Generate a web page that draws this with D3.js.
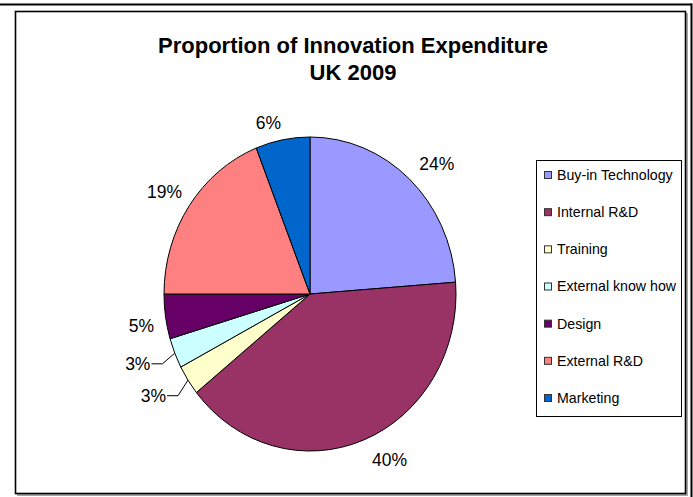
<!DOCTYPE html>
<html>
<head>
<meta charset="utf-8">
<script src="https://cdn.jsdelivr.net/npm/d3@7"></script>
<style>
  html, body { margin: 0; padding: 0; background: #fff; }
  svg { display: block; font-family: "Liberation Sans", Arial, sans-serif; }
</style>
</head>
<body>
<svg id="chart" width="693" height="497"></svg>
<script>
// ---- data ----
const titleLines = ["Proportion of Innovation Expenditure", "UK 2009"];
const categories = ["Buy-in Technology", "Internal R&D", "Training", "External know how", "Design", "External R&D", "Marketing"];
const values = [23.8, 40.4, 3.1, 3.1, 4.6, 19.0, 6.0];
const colors = ["#9999FF", "#993366", "#FFFFCC", "#CCFFFF", "#660066", "#FF8080", "#0066CC"];

// ---- layout ----
const W = 693, H = 497;
const cx = 310, cy = 294, rx = 146, ry = 157;
const svg = d3.select("#chart");

// outer frame lines
svg.append("line").attr("x1", 0).attr("x2", 692).attr("y1", 4.5).attr("y2", 4.5)
  .attr("stroke", "#000").attr("stroke-width", 2);
svg.append("line").attr("x1", 691.5).attr("x2", 691.5).attr("y1", 3.5).attr("y2", H)
  .attr("stroke", "#000").attr("stroke-width", 2);

// chart area with shadow
svg.append("path").attr("d", "M687,13 V495 H17").attr("fill", "none")
  .attr("stroke", "#888").attr("stroke-width", 1.5);
svg.append("rect").attr("x", 15.5).attr("y", 11.5).attr("width", 670).attr("height", 482)
  .attr("fill", "#fff").attr("stroke", "#000").attr("stroke-width", 1.6);

// title
svg.append("g").selectAll("text").data(titleLines).join("text")
  .attr("x", 353).attr("y", (d, i) => 53 + i * 27)
  .attr("text-anchor", "middle").attr("font-weight", "bold").attr("font-size", 22)
  .attr("fill", "#000").text(d => d);

// pie
const total = d3.sum(values);
const pie = d3.pie().sort(null).value(d => d)(values);
const arc = d3.arc().innerRadius(0).outerRadius(rx);
const pg = svg.append("g").attr("transform", `translate(${cx},${cy}) scale(1,${ry / rx})`);
pg.selectAll("path").data(pie).join("path")
  .attr("d", arc).attr("fill", (d, i) => colors[i])
  .attr("stroke", "#000").attr("stroke-width", 1).attr("vector-effect", "non-scaling-stroke");

// labels
const pt = (a, f) => [cx + Math.sin(a) * rx * f, cy - Math.cos(a) * ry * f];
const lg = svg.append("g").attr("font-size", 17.5).attr("fill", "#000");
pie.forEach((d, i) => {
  const a = (d.startAngle + d.endAngle) / 2;
  const pct = Math.round(d.data / total * 100) + "%";
  const s = Math.sin(a), c = Math.cos(a);
  if (d.data / total < 0.04) {
    const [lx, ly] = pt(a, 1.18);
    const [ex, ey] = pt(a, 1.0);
    lg.append("text").attr("x", lx).attr("y", ly).attr("dy", "0.35em")
      .attr("text-anchor", "end").text(pct);
    lg.append("polyline")
      .attr("points", `${lx + 1},${ly} ${lx + 12},${ly} ${ex},${ey}`)
      .attr("fill", "none").attr("stroke", "#000").attr("stroke-width", 1);
  } else {
    const f = c > 0 ? 1.06 : 1.08;
    const [ax, ay] = pt(a, f);
    lg.append("text").attr("x", s > 0 ? ax + 4 : ax)
      .attr("y", c > 0 ? ay - 2 : ay + 14)
      .attr("text-anchor", s > 0 ? "start" : "end").text(pct);
  }
});

// legend
const ly = d3.scalePoint().domain(categories).range([175, 398]);
svg.append("rect").attr("x", 536.5).attr("y", 160.5).attr("width", 145).attr("height", 256)
  .attr("fill", "#fff").attr("stroke", "#000").attr("stroke-width", 1);
const items = svg.append("g").selectAll("g").data(categories).join("g")
  .attr("transform", d => `translate(544,${ly(d)})`);
items.append("rect").attr("x", 0.5).attr("y", -3.5).attr("width", 7).attr("height", 7)
  .attr("fill", (d, i) => colors[i]).attr("stroke", "#333").attr("stroke-width", 1);
items.append("text").attr("x", 13).attr("y", 0).attr("dy", "0.35em")
  .attr("font-size", 14.2).attr("fill", "#000").text(d => d);
</script>
</body>
</html>
